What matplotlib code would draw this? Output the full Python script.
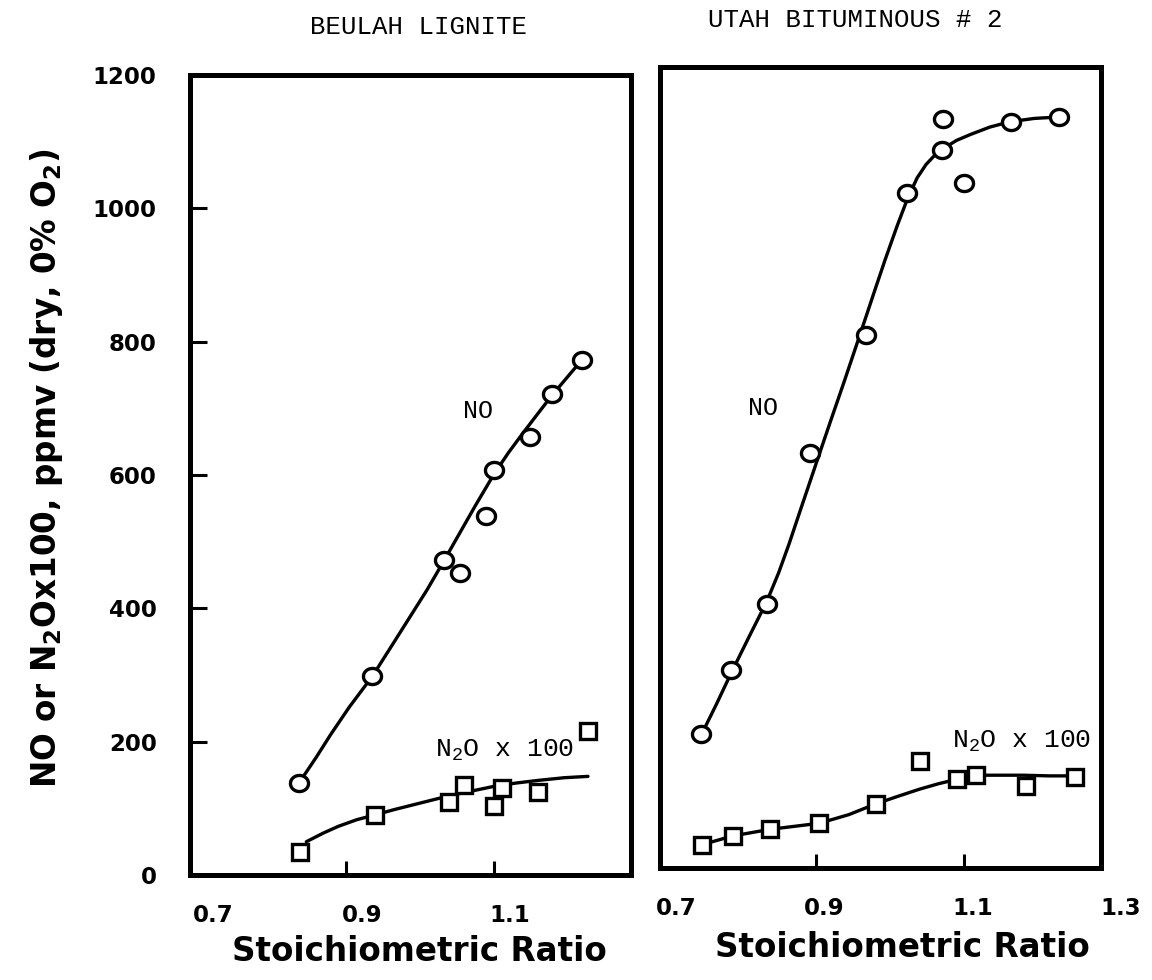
import numpy as np
import matplotlib
matplotlib.use("Agg")
import matplotlib.pyplot as plt
from matplotlib.path import Path

# ---- Beulah lignite -------------------------------------------------------
bl_no_sr = [0.837, 0.936, 1.033, 1.055, 1.090, 1.100, 1.149, 1.178, 1.219]
bl_no = [138, 298, 472, 453, 539, 608, 657, 721, 773]
bl_n2o_sr = [0.839, 0.939, 1.040, 1.060, 1.100, 1.111, 1.160, 1.227]
bl_n2o = [35, 90, 110, 135, 104, 130, 124, 216]
# hand-drawn trend lines
bl_no_fit_sr = [0.837, 0.860, 0.880, 0.905, 0.936, 0.960, 0.985, 1.010, 1.033,
                1.055, 1.075, 1.100, 1.120, 1.140, 1.160, 1.178, 1.200, 1.219]
bl_no_fit = [138, 176, 211, 252, 298, 340, 384, 428, 472,
             515, 554, 601, 634, 664, 693, 719, 748, 773]
bl_n2o_fit_sr = [0.847, 0.870, 0.890, 0.915, 0.939, 0.965, 0.990, 1.015, 1.040,
                 1.070, 1.100, 1.130, 1.160, 1.195, 1.227]
bl_n2o_fit = [50, 63, 73, 83, 90, 98, 105, 112, 119, 126, 133, 138, 142, 146, 148]

# ---- Utah bituminous #2 ---------------------------------------------------
ub_no_sr = [0.746, 0.786, 0.834, 0.893, 0.968, 1.023, 1.071, 1.072, 1.100, 1.163, 1.228]
ub_no = [200, 297, 395, 622, 798, 1011, 1076, 1122, 1026, 1118, 1125]
ub_n2o_sr = [0.747, 0.788, 0.839, 0.905, 0.981, 1.041, 1.091, 1.116, 1.184, 1.250]
ub_n2o = [35, 48, 58, 67, 96, 160, 133, 139, 123, 137]
ub_no_fit_sr = [0.746, 0.766, 0.786, 0.810, 0.834, 0.850, 0.864, 0.880, 0.901,
                0.920, 0.938, 0.955, 0.968, 0.980, 0.994, 1.010, 1.024, 1.037,
                1.049, 1.060, 1.071, 1.090, 1.109, 1.135, 1.162, 1.195, 1.226]
ub_no_fit = [200, 245, 292, 346, 399, 442, 485, 538, 607,
             669, 727, 783, 826, 866, 912, 962, 1003, 1034,
             1054, 1067, 1077, 1090, 1099, 1110, 1118, 1123, 1125]
ub_n2o_fit_sr = [0.747, 0.788, 0.839, 0.905, 0.945, 0.981, 1.010, 1.040, 1.065,
                 1.091, 1.116, 1.150, 1.180, 1.215, 1.250]
ub_n2o_fit = [35, 48, 58, 67, 80, 96, 107, 118, 126, 133, 139, 139, 139, 138, 138]

panel_titles = ["BEULAH LIGNITE", "UTAH BITUMINOUS # 2"]
y_ticks = [0, 200, 400, 600, 800, 1000, 1200]
x_tick_marks = [0.9, 1.1]
x_tick_labels_left = ["0.7", "0.9", "1.1"]
x_tick_labels_right = ["0.7", "0.9", "1.1", "1.3"]

plt.rcParams["mathtext.fontset"] = "custom"
plt.rcParams["mathtext.rm"] = "DejaVu Sans"

SANS = "DejaVu Sans"
MONO = "Liberation Mono"
INK = "black"

fig = plt.figure(figsize=(11.52, 9.8), dpi=100)
ax1 = fig.add_axes([0.1649, 0.1071, 0.3828, 0.8163])
ax2 = fig.add_axes([0.5729, 0.1143, 0.3828, 0.8173])

# slightly oval open circle, like the drafted symbols
t = np.linspace(0, 2 * np.pi, 73)
oval = Path(np.column_stack([1.12 * np.cos(t), np.sin(t)]), closed=True)

circ_kw = dict(linestyle="none", marker=oval, markersize=13, mfc="white",
               mec=INK, mew=2.4, zorder=4, clip_on=False)
sq_kw = dict(linestyle="none", marker="s", markersize=12, mfc="white",
             mec=INK, mew=2.4, zorder=4, clip_on=False)
line_kw = dict(color=INK, lw=2.4, zorder=3, solid_capstyle="round",
               solid_joinstyle="round")

for ax in (ax1, ax2):
    ax.set_xlim(0.69, 1.285)
    ax.set_ylim(0, 1200)
    for s in ax.spines.values():
        s.set_linewidth(3.6)
        s.set_color(INK)
    ax.set_xticks(x_tick_marks)
    ax.tick_params(axis="x", direction="in", length=10, width=2.2,
                   labelbottom=False, top=False)
    ax.set_facecolor("white")

# left panel
ax1.plot(bl_no_fit_sr, bl_no_fit, **line_kw)
ax1.plot(bl_n2o_fit_sr, bl_n2o_fit, **line_kw)
ax1.plot(bl_no_sr, bl_no, **circ_kw)
ax1.plot(bl_n2o_sr, bl_n2o, **sq_kw)
ax1.set_yticks(y_ticks)
ax1.set_yticklabels([str(v) for v in y_ticks], fontsize=16.5, fontweight="bold",
                    family=SANS)
ax1.tick_params(axis="y", direction="in", length=12, width=2.2, pad=24,
                right=False)
ax1.text(1.078, 696, "NO", family=MONO, fontsize=18, ha="center", va="center")
ax1.text(1.115, 187, r"N$_\mathregular{2}$O x 100", family=MONO, fontsize=19,
         ha="center", va="center")

# right panel
ax2.plot(ub_no_fit_sr, ub_no_fit, **line_kw)
ax2.plot(ub_n2o_fit_sr, ub_n2o_fit, **line_kw)
ax2.plot(ub_no_sr, ub_no, **circ_kw)
ax2.plot(ub_n2o_sr, ub_n2o, **sq_kw)
ax2.set_yticks([])
ax2.text(0.829, 689, "NO", family=MONO, fontsize=18, ha="center", va="center")
ax2.text(1.178, 190, r"N$_\mathregular{2}$O x 100", family=MONO, fontsize=19,
         ha="center", va="center")

# x tick labels and axis titles
for ax, labels, off in ((ax1, x_tick_labels_left, 0.022),
                        (ax2, x_tick_labels_right, 0.012)):
    for lab in labels:
        ax.text(float(lab) + off, -0.05, lab, transform=ax.get_xaxis_transform(),
                ha="center", va="center", fontsize=16.5, fontweight="bold",
                family=SANS, clip_on=False)

ax1.text(0.52, -0.096, "Stoichiometric Ratio", transform=ax1.transAxes,
         ha="center", va="center", fontsize=23.5, fontweight="bold", family=SANS)
ax2.text(0.55, -0.099, "Stoichiometric Ratio", transform=ax2.transAxes,
         ha="center", va="center", fontsize=23.5, fontweight="bold", family=SANS)

fig.text(47 / 1152, 1 - 468 / 980,
         r"NO or N$_\mathregular{2}$Ox100, ppmv (dry, 0% O$_\mathregular{2}$)",
         rotation=90, ha="center", va="center", fontsize=23.5, fontweight="bold",
         family=SANS)

fig.text(418 / 1152, 1 - 27 / 980, panel_titles[0], family=MONO, fontsize=18.5,
         ha="center", va="center")
fig.text(855 / 1152, 1 - 20 / 980, panel_titles[1], family=MONO, fontsize=18.5,
         ha="center", va="center")

fig.savefig("out.png", dpi=100, facecolor="white")
